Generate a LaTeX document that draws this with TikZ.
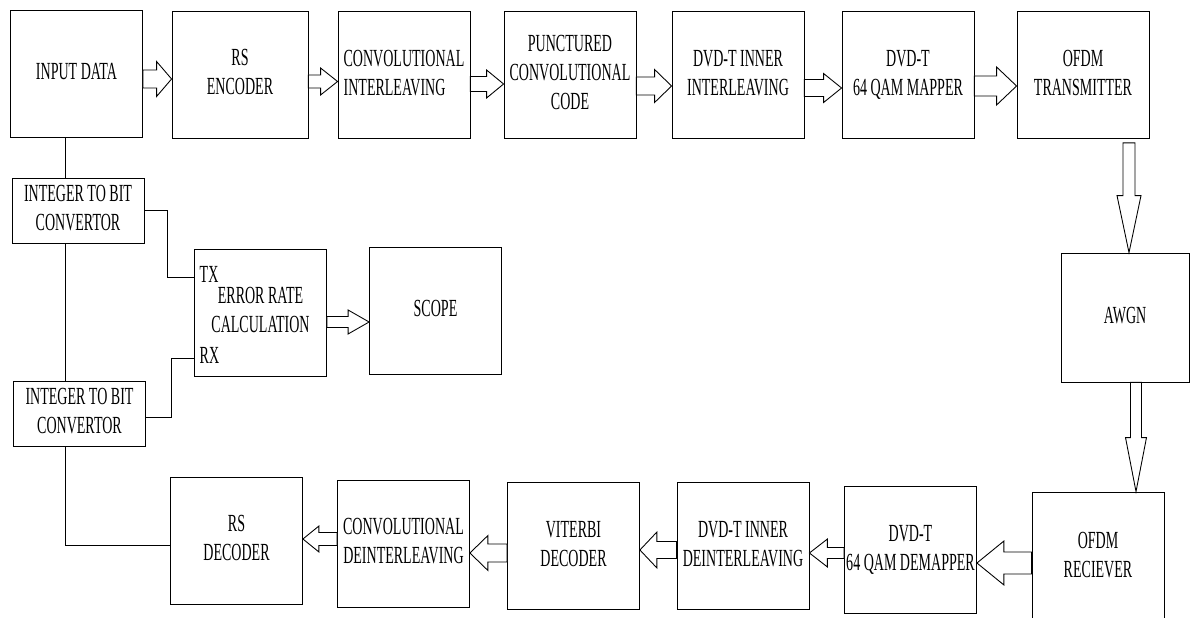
\documentclass[tikz,border=0pt]{standalone}
\usepackage{fontspec}
\setmainfont{Liberation Serif}
\usepackage{graphicx}
\usetikzlibrary{calc}

% narrow caps text, as in the drawing
\newcommand\lbl[2][c]{\scalebox{0.57}[1]{\begin{tabular}{@{}#1@{}}#2\end{tabular}}}
% open block arrow: shaft half width, head half width, head length (px), from, to
\newcommand\fatarrow[5]{%
  \coordinate (fa) at (#4);
  \coordinate (fb) at (#5);
  \coordinate (fh) at ($(fb)!#3*0.02cm!(fa)$);
  \draw[fat] ($(fa)!#1*0.02cm!90:(fb)$) -- ($(fh)!#1*0.02cm!90:(fb)$)
    -- ($(fh)!#2*0.02cm!90:(fb)$) -- (fb) -- ($(fh)!#2*0.02cm!-90:(fb)$)
    -- ($(fh)!#1*0.02cm!-90:(fb)$) -- ($(fa)!#1*0.02cm!-90:(fb)$) -- cycle;}

\begin{document}
\begin{tikzpicture}[x=0.02cm, y=-0.02cm, font=\fontsize{14}{16.5}\selectfont]
  \tikzset{blk/.style={rectangle, draw, line width=0.5pt, minimum width=2.64cm, minimum height=2.54cm, inner sep=0pt}}
  \tikzset{small/.style={blk, minimum height=1.3cm}}
  \tikzset{fat/.style={line width=0.5pt, fill=white}}
  \tikzset{wire/.style={line width=0.5pt}}

  \clip (0,0) rectangle (1190,618);
  \fill[white] (0,0) rectangle (1190,618);

  % transmitter chain
  \node[blk] (indata) at (76.5,73.5) {\lbl{INPUT DATA}};
  \node[blk, minimum width=2.72cm] (rsenc) at (240,74.5) {\lbl{RS\\ENCODER}};
  \node[blk] (convint) at (404,75) {\lbl[l]{CONVOLUTIONAL\\INTERLEAVING}};
  \node[blk] (punct) at (570,75) {\lbl{PUNCTURED\\CONVOLUTIONAL\\CODE}};
  \node[blk] (innerint) at (738,75) {\lbl{DVD-T INNER\\INTERLEAVING}};
  \node[blk] (mapper) at (908,75) {\lbl{DVD-T\\64 QAM MAPPER}};
  \node[blk] (ofdmtx) at (1083,75) {\lbl{OFDM\\TRANSMITTER}};

  % channel
  \node[blk, minimum width=2.56cm, minimum height=2.58cm] (awgn) at (1125,317.5) {\lbl{AWGN}};

  % receiver chain
  \node[blk, minimum height=2.6cm] (ofdmrx) at (1098,557) {\lbl{OFDM\\RECIEVER}};
  \node[blk] (demapper) at (910.5,550) {\lbl{DVD-T\\64 QAM DEMAPPER}};
  \node[blk] (innerdeint) at (743,546) {\lbl{DVD-T INNER\\DEINTERLEAVING}};
  \node[blk] (viterbi) at (573.5,546) {\lbl{VITERBI\\DECODER}};
  \node[blk] (convdeint) at (403.5,543.5) {\lbl{CONVOLUTIONAL\\DEINTERLEAVING}};
  \node[blk] (rsdec) at (236.5,540.5) {\lbl{RS\\DECODER}};

  % error rate part
  \node[small] (int1) at (78,210.5) {\lbl{INTEGER TO BIT\\CONVERTOR}};
  \node[small] (int2) at (79.5,413.5) {\lbl{INTEGER TO BIT\\CONVERTOR}};
  \node[blk] (err) at (260.5,312.5) {\lbl{ERROR RATE\\CALCULATION}};
  \node[blk] (scope) at (435.5,311) {\lbl{SCOPE}};
  \node[anchor=west, inner sep=3pt] (tx) at (err.west |- 0,277) {\lbl{TX}};
  \node[anchor=west, inner sep=3pt] (rx) at (err.west |- 0,358) {\lbl{RX}};

  \coordinate (bus) at (65,0);
  \draw[wire] (indata.south -| bus) -- (int1.north -| bus);
  \draw[wire] (int1.south -| bus) -- (int2.north -| bus);
  \draw[wire] (int2.south -| bus) |- (rsdec.west |- 0,545);
  \draw[wire] (int1.east) -- ++(23,0) |- (tx.west);
  \draw[wire] (int2.east |- 0,417) -- ++(26,0) |- (rx.west);

  % block arrows
  \fatarrow{9}{17.5}{15}{indata.east |- 0,79}{rsenc.west |- 0,79}
  \fatarrow{6.5}{13.5}{17}{rsenc.east |- 0,81.5}{convint.west |- 0,81.5}
  \fatarrow{7.5}{14}{17}{convint.east |- 0,84}{punct.west |- 0,84}
  \fatarrow{9}{16.5}{17}{punct.east |- 0,86}{innerint.west |- 0,86}
  \fatarrow{8.5}{14.5}{18}{innerint.east |- 0,88}{mapper.west |- 0,88}
  \fatarrow{10}{19}{20}{mapper.east |- 0,86}{ofdmtx.west |- 0,86}
  \fatarrow{6}{12}{57}{$(ofdmtx.south -| 1129,0)+(0,4)$}{awgn.north -| 1129,0}
  \fatarrow{5.5}{10.5}{54}{awgn.south -| 1136,0}{ofdmrx.north -| 1136,0}
  \fatarrow{11}{22}{27}{ofdmrx.west |- 0,563}{demapper.east |- 0,563}
  \fatarrow{5.5}{14}{18}{demapper.west |- 0,553}{innerdeint.east |- 0,553}
  \fatarrow{8.5}{18}{17}{innerdeint.west |- 0,550}{viterbi.east |- 0,550}
  \fatarrow{9}{17.5}{18}{viterbi.west |- 0,553}{convdeint.east |- 0,553}
  \fatarrow{6.5}{13}{16}{convdeint.west |- 0,539}{rsdec.east |- 0,539}
  \fatarrow{5.5}{12}{21}{err.east |- 0,322}{scope.west |- 0,322}
\end{tikzpicture}
\end{document}
